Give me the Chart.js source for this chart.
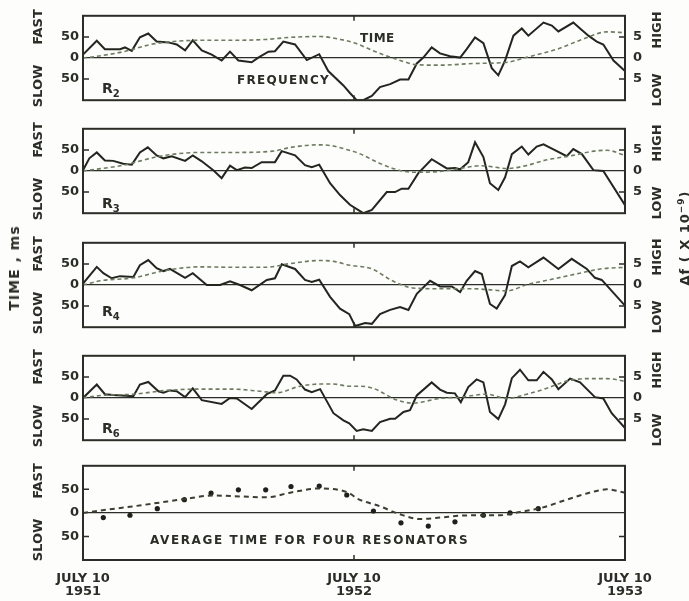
<!DOCTYPE html>
<html>
<head>
<meta charset="utf-8">
<script src="https://cdn.jsdelivr.net/npm/chart.js@4/dist/chart.umd.min.js"></script>
<style>
  html, body { margin: 0; padding: 0; background: #ffffff; }
  #wrap { position: relative; width: 689px; height: 601px; overflow: hidden; background: #fdfdfb; }
  canvas { position: absolute; left: 0; }
  .t { position: absolute; font-family: "DejaVu Sans", sans-serif; font-weight: bold; color: #2b2e26; white-space: nowrap; line-height: 1; }
  .rot { transform: translate(-50%, -50%) rotate(-90deg); }
  sub { font-size: 10px; vertical-align: -4px; line-height: 0; }
</style>
</head>
<body>
<div id="wrap"></div>
<script>
// ---------- DATA (months after July 10 1951; time in ms; frequency in units of 1e-9) ----------
const X_TICKS = [0, 12, 24];
const X_TICK_LABELS = [["JULY 10", "1951"], ["JULY 10", "1952"], ["JULY 10", "1953"]];
const TIME_TICKS = [-50, 0, 50];
const FREQ_TICKS = [-5, 0, 5];
const PANEL_NAMES = ["2", "3", "4", "6"];

const R2_FREQ = [[0,0.8],[0.61,4.1],[0.97,2.1],[1.64,2.1],[1.86,2.5],[2.16,1.7],[2.52,4.9],[2.89,5.8],[3.26,3.9],[3.78,3.7],[4.15,3.2],[4.52,1.8],[4.86,4.2],[5.26,1.8],[5.7,0.8],[6.14,-0.6],[6.51,1.5],[6.88,-0.6],[7.47,-1.0],[7.76,0.1],[8.21,1.5],[8.5,1.6],[8.87,3.9],[9.39,3.2],[9.91,-0.5],[10.46,0.9],[10.86,-3.1],[11.53,-6.5],[11.82,-8.3],[12.12,-10],[12.41,-10],[12.79,-9],[13.15,-6.9],[13.6,-6.2],[14.04,-5.1],[14.41,-5.1],[14.78,-1.3],[15.07,0.1],[15.44,2.5],[15.81,1.1],[16.25,0.4],[16.7,0.1],[16.99,2.1],[17.36,4.9],[17.73,3.5],[18.1,-2.4],[18.39,-4.1],[18.69,-0.6],[19.06,5.3],[19.43,7.0],[19.72,5.3],[20.39,8.4],[20.76,7.7],[21.05,6.3],[21.71,8.4],[22.01,7.0],[22.38,5.3],[22.75,3.9],[23.04,3.2],[23.49,-0.6],[23.78,-2.0],[24,-3.1]];
const R2_TIME = [[0,0],[0.6,4],[1.8,15],[3,32],[4,39],[5.2,42],[6.6,42],[8.1,44],[9.2,49],[10.5,51],[11.4,44],[12,36],[13,14],[14,-5],[14.8,-16],[15.8,-17],[17.3,-13],[18.8,-10],[19.6,1],[21,21],[22.2,46],[23.2,62],[24,60]];

const R3_FREQ = [[0,0.2],[0.28,3.0],[0.61,4.4],[0.97,2.5],[1.34,2.4],[1.78,1.7],[2.16,1.5],[2.52,4.4],[2.87,5.6],[3.26,3.7],[3.56,3.0],[3.93,3.5],[4.52,2.4],[4.86,3.7],[5.26,2.3],[5.77,0.2],[6.14,-1.7],[6.51,1.25],[6.81,0.2],[7.17,0.8],[7.47,0.7],[7.91,2.1],[8.21,2.1],[8.5,2.1],[8.8,4.7],[9.39,3.7],[9.83,1.4],[10.13,0.9],[10.46,1.5],[10.94,-2.9],[11.38,-5.7],[11.82,-8.0],[12.41,-10],[12.79,-9.2],[13.45,-5.0],[13.82,-5.0],[14.11,-4.2],[14.41,-4.2],[14.85,-0.5],[15.44,2.8],[16.11,0.6],[16.47,0.7],[16.7,0.4],[17.06,2.1],[17.36,6.8],[17.73,3.3],[18.02,-2.9],[18.39,-4.5],[18.69,-1.5],[18.99,4.0],[19.43,5.8],[19.72,3.9],[20.09,5.8],[20.39,6.3],[20.83,5.1],[21.42,3.5],[21.71,5.2],[22.09,4.0],[22.6,0.2],[23.04,0.0],[24,-8.1]];
const R3_TIME = [[0,0],[1.8,14],[3.4,35],[5.2,44],[6.7,44],[8.4,47],[9.2,56],[10.4,62],[11.0,60],[11.6,52],[12.3,40],[13.1,19],[14.0,2],[14.6,-3],[15.8,-1],[16.7,6],[17.6,12.5],[18.8,6],[19.6,12.5],[20.5,26],[21.7,37],[22.6,47],[23.2,49],[24,37]];

const R4_FREQ = [[0,0.35],[0.61,4.3],[0.9,2.8],[1.27,1.6],[1.64,2.1],[2.23,1.9],[2.52,4.7],[2.89,5.9],[3.26,4.0],[3.56,3.3],[3.85,3.8],[4.52,1.7],[4.86,2.8],[5.48,0],[6.07,0],[6.51,0.9],[6.95,0],[7.47,-1.25],[8.14,1.2],[8.5,1.6],[8.8,4.9],[9.39,3.8],[9.83,1.2],[10.13,0.7],[10.46,1.25],[10.94,-2.8],[11.38,-5.6],[11.79,-6.9],[12.05,-9.7],[12.49,-9.0],[12.79,-9.2],[13.15,-6.9],[13.6,-5.9],[14.04,-5.2],[14.41,-5.9],[14.78,-2.1],[15.37,1.0],[15.81,-0.35],[16.33,-0.35],[16.7,-1.7],[16.99,1.0],[17.36,3.3],[17.66,2.6],[18.02,-4.5],[18.32,-5.6],[18.69,-2.4],[18.99,4.5],[19.35,5.6],[19.72,4.2],[20.39,6.5],[21.05,3.8],[21.64,6.2],[22.31,3.8],[22.67,1.7],[22.97,1.2],[24,-4.9]];
const R4_TIME = [[0,0],[0.77,10],[2.24,17],[3.7,35],[5.2,43],[6.65,42],[8.1,42],[9.2,51],[10.5,58],[11.1,56],[11.8,47],[12.8,38],[13.7,10],[14.6,-7],[15.8,-9],[17.3,-9],[18.8,-14],[19.6,0],[20.8,14],[22.0,28],[22.9,38],[24,42]];

const R6_FREQ = [[0,0],[0.61,3.2],[0.97,0.9],[1.34,0.7],[2.23,0.4],[2.52,3.2],[2.89,3.8],[3.34,1.6],[3.56,1.25],[3.85,1.8],[4.15,1.6],[4.52,0.2],[4.86,2.3],[5.26,-0.5],[6.14,-1.4],[6.51,0],[6.81,-0.1],[7.47,-2.6],[8.14,0.9],[8.5,1.8],[8.87,5.3],[9.17,5.3],[9.46,4.4],[9.83,2.0],[10.13,1.4],[10.5,2.1],[11.09,-3.6],[11.53,-5.3],[11.79,-6.0],[12.12,-7.8],[12.41,-7.4],[12.79,-7.8],[13.15,-5.7],[13.6,-4.9],[13.82,-4.9],[14.19,-3.3],[14.48,-2.9],[14.78,0.6],[15.44,3.7],[15.81,2.0],[16.11,1.25],[16.47,1.1],[16.73,-1.0],[17.06,2.6],[17.43,4.4],[17.73,3.7],[18.02,-3.3],[18.39,-5.0],[18.69,-1.5],[18.99,4.7],[19.35,6.7],[19.72,4.2],[20.09,4.2],[20.39,6.2],[20.76,4.4],[21.05,2.1],[21.57,4.6],[22.01,3.7],[22.67,0.2],[23.04,-0.1],[23.41,-3.6],[24,-7.1]];
const R6_TIME = [[0,0],[0.77,6],[2.23,9],[3.7,18],[5.18,21],[6.65,21],[7.84,16],[8.58,12.5],[9.61,28],[10.5,33],[11.09,33],[11.79,28],[12.3,28],[12.85,23],[13.9,-5],[14.6,-12],[15.81,-1],[16.7,2],[17.88,9],[18.76,-1],[19.65,9],[20.54,23],[21.42,40],[22.3,46],[23.2,46],[24,40]];

const AVG_TIME = [[0,0],[0.77,5],[2.23,14],[3.41,22],[4.45,29],[5.77,37],[6.95,35],[8.14,33],[9.17,43],[10.5,52],[11.79,42],[12.12,31],[13.15,14],[14.04,-3],[14.92,-13],[15.81,-10],[16.7,-6],[17.58,-5],[18.47,-5],[19.35,2],[20.24,10],[21.42,28],[22.6,45],[23.19,50],[24,43]];
const AVG_POINTS = [[0.9,-10],[2.08,-5],[3.29,9],[4.49,28],[5.67,42],[6.88,49],[8.09,49],[9.21,56],[10.46,57],[11.68,38],[12.86,4],[14.08,-21],[15.29,-28],[16.47,-19],[17.73,-5],[18.91,0],[20.16,9]];

// ---------- STYLE / LAYOUT ----------
const INK = "#2b2e26";
const FONT = { family: "DejaVu Sans", weight: "bold", size: 13 };
const PANEL_TOPS = [10, 123, 237, 350, 464];
const PANEL_H = 96;
const LEFT = 83, RIGHT_W = 64, W = 689;
const wrap = document.getElementById("wrap");

const framePlugin = {
  id: "frame",
  afterDraw(chart, args, opts) {
    const { ctx, chartArea: a, scales } = chart;
    ctx.save();
    ctx.strokeStyle = INK;
    ctx.lineWidth = 2;
    ctx.strokeRect(a.left, a.top, a.right - a.left, a.bottom - a.top);
    ctx.lineWidth = 1.5;
    ctx.beginPath();
    [-50, 50].forEach(v => {
      const y = scales.y.getPixelForValue(v);
      ctx.moveTo(a.left, y); ctx.lineTo(a.left + 6, y);
    });
    (opts.rightTicks || []).forEach(v => {
      const y = scales.y2.getPixelForValue(v);
      ctx.moveTo(a.right - 6, y); ctx.lineTo(a.right, y);
    });
    const xm = scales.x.getPixelForValue(12);
    ctx.moveTo(xm, a.top); ctx.lineTo(xm, a.top + 5);
    ctx.moveTo(xm, a.bottom); ctx.lineTo(xm, a.bottom - 5);
    ctx.stroke();
    ctx.restore();
  }
};

function makePanel(idx, datasets, isLast) {
  const top = PANEL_TOPS[idx];
  const c = document.createElement("canvas");
  const h = isLast ? 10 + PANEL_H + 40 : PANEL_H + 20;
  c.width = W; c.height = h;
  c.style.top = (top - 10) + "px";
  c.style.width = W + "px"; c.style.height = h + "px";
  wrap.appendChild(c);
  new Chart(c, {
    type: "line",
    data: { datasets },
    plugins: [framePlugin],
    options: {
      responsive: false, animation: false, devicePixelRatio: 1,
      layout: { padding: { top: 10, bottom: isLast ? 0 : 10, left: 0, right: 0 } },
      plugins: { legend: { display: false }, tooltip: { enabled: false },
                 frame: { rightTicks: isLast ? [-5] : FREQ_TICKS.filter(v => v !== 0) } },
      scales: {
        x: {
          type: "linear", min: 0, max: 24, display: isLast,
          grid: { display: false }, border: { display: false },
          afterBuildTicks: s => { s.ticks = X_TICKS.map(v => ({ value: v })); },
          afterFit: s => { s.height = isLast ? 40 : 0; },
          ticks: { autoSkip: false, maxRotation: 0, padding: 4, color: INK,
                   font: { ...FONT, lineHeight: 1.0 },
                   callback: v => X_TICK_LABELS[X_TICKS.indexOf(v)] }
        },
        y: {
          position: "left", min: -100, max: 100,
          afterBuildTicks: s => { s.ticks = TIME_TICKS.map(v => ({ value: v })); },
          afterFit: s => { s.width = LEFT; },
          border: { display: false },
          grid: { drawTicks: false, lineWidth: 1.3,
                  color: ctx => (ctx.tick && ctx.tick.value === 0) ? INK : "rgba(0,0,0,0)" },
          ticks: { padding: 4, color: INK, font: FONT, callback: v => String(Math.abs(v)) }
        },
        y2: {
          position: "right", min: -10, max: 10,
          afterBuildTicks: s => { s.ticks = FREQ_TICKS.map(v => ({ value: v })); },
          afterFit: s => { s.width = RIGHT_W; },
          border: { display: false },
          grid: { display: false, drawTicks: false },
          ticks: { display: !isLast, padding: 8, color: INK, font: FONT, callback: v => String(Math.abs(v)) }
        }
      }
    }
  });
}

function freqSet(d) {
  return { data: d, yAxisID: "y2", borderColor: "#23261e", borderWidth: 2, pointRadius: 0, tension: 0, fill: false };
}
function timeSet(d) {
  return { data: d, yAxisID: "y", borderColor: "#6e7b62", borderWidth: 1.6, borderDash: [4, 3], pointRadius: 0,
           tension: 0.4, cubicInterpolationMode: "monotone", fill: false };
}

makePanel(0, [timeSet(R2_TIME), freqSet(R2_FREQ)], false);
makePanel(1, [timeSet(R3_TIME), freqSet(R3_FREQ)], false);
makePanel(2, [timeSet(R4_TIME), freqSet(R4_FREQ)], false);
makePanel(3, [timeSet(R6_TIME), freqSet(R6_FREQ)], false);
makePanel(4, [
  { data: AVG_TIME, yAxisID: "y", borderColor: "#3a3f31", borderWidth: 2, borderDash: [5, 4], pointRadius: 0,
    tension: 0.4, cubicInterpolationMode: "monotone", fill: false },
  { data: AVG_POINTS, yAxisID: "y", showLine: false, pointRadius: 2.6, pointBackgroundColor: "#1e211a",
    pointBorderWidth: 0, borderColor: "#1e211a" }
], true);

// ---------- TEXT ----------
function txt(html, x, y, size, rot, extra) {
  const d = document.createElement("div");
  d.className = "t" + (rot ? " rot" : "");
  d.innerHTML = html;
  d.style.left = x + "px"; d.style.top = y + "px";
  d.style.fontSize = size + "px";
  if (extra) Object.assign(d.style, extra);
  wrap.appendChild(d);
}
PANEL_TOPS.forEach(t => {
  const z = t + PANEL_H / 2;
  txt("FAST", 37, z - 31, 13, true);
  txt("SLOW", 37, z + 28, 13, true);
});
PANEL_TOPS.slice(0, 4).forEach(t => {
  const z = t + PANEL_H / 2;
  txt("HIGH", 656, z - 28, 13, true);
  txt("LOW", 656, z + 32, 13, true);
});
txt("TIME , ms", 14, 268, 14, true, { letterSpacing: "1px" });
txt("Δf ( X 10<sup style='font-size:9px'>−9</sup>)", 684, 238, 13, true, { letterSpacing: "1px" });
const R_OFFS = [24, 26, 20, 24];
PANEL_NAMES.forEach((n, i) => {
  const z = PANEL_TOPS[i] + PANEL_H / 2;
  txt("R<sub>" + n + "</sub>", 102, z + R_OFFS[i] - 1, 14, false);
});
txt("FREQUENCY", 237, 74, 12, false, { letterSpacing: "1.3px" });
txt("TIME", 360, 32, 12, false, { letterSpacing: "0.5px" });
txt("AVERAGE TIME FOR FOUR RESONATORS", 150, 534, 12, false, { letterSpacing: "1.6px" });
</script>
</body>
</html>
